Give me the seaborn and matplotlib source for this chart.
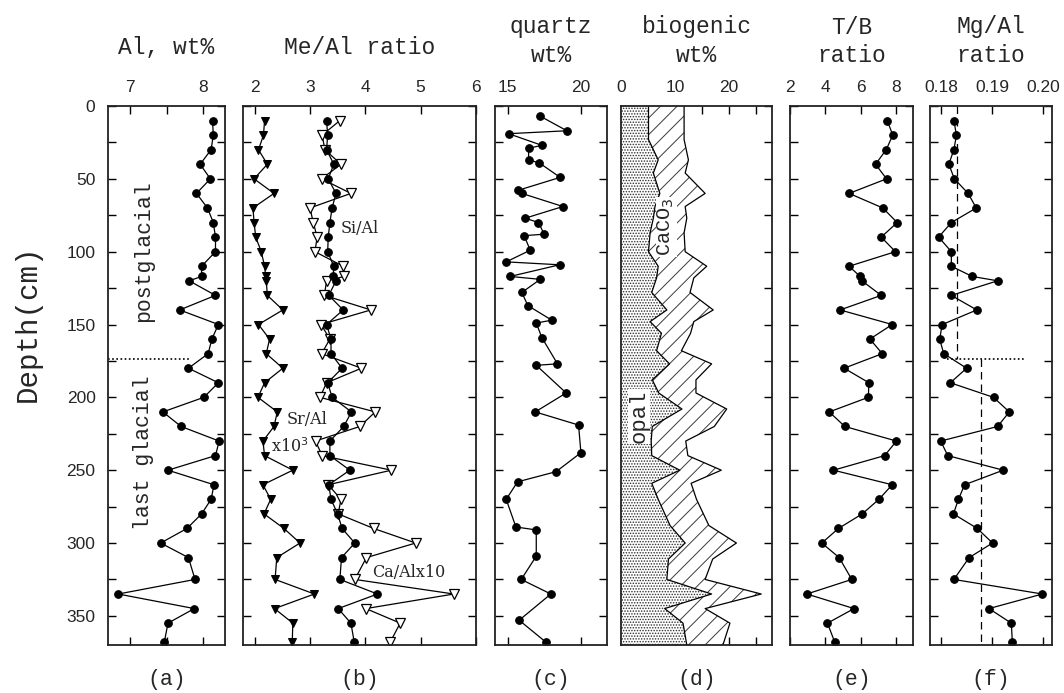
import numpy as np
import pandas as pd
import matplotlib
matplotlib.use("Agg")
import matplotlib.pyplot as plt
import seaborn as sns

# ---------------- data ----------------
depth = [10, 20, 30, 40, 50, 60, 70, 80, 90, 100, 110, 117, 120, 130, 140, 150, 160, 170,
         180, 190, 200, 210, 220, 230, 240, 250, 260, 270, 280, 290, 300, 310,
         325, 335, 345, 355, 368]

al_wt = [8.13, 8.14, 8.11, 7.96, 8.10, 7.91, 8.06, 8.14, 8.17, 8.17, 7.98, 7.98, 7.81, 8.17,
         7.68, 8.21, 8.12, 8.07, 7.80, 8.21, 8.01, 7.45, 7.70, 8.22, 8.17, 7.52, 8.15, 8.11,
         7.98, 7.78, 7.42, 7.80, 7.89, 6.84, 7.88, 7.52, 7.47]

sr_al = [2.18, 2.16, 2.07, 2.23, 1.99, 2.35, 1.97, 1.99, 2.02, 2.12, 2.18, 2.20, 2.21, 2.23,
         2.51, 2.07, 2.27, 2.21, 2.51, 2.18, 2.06, 2.41, 2.35, 2.15, 2.18, 2.69, 2.15, 2.29,
         2.17, 2.53, 2.82, 2.40, 2.37, 3.08, 2.36, 2.69, 2.68]

si_al = [3.30, 3.32, 3.30, 3.43, 3.33, 3.47, 3.40, 3.36, 3.33, 3.32, 3.43, 3.42, 3.47, 3.34,
         3.60, 3.30, 3.38, 3.38, 3.58, 3.32, 3.40, 3.75, 3.61, 3.36, 3.36, 3.72, 3.34, 3.38,
         3.50, 3.58, 3.81, 3.57, 3.54, 4.22, 3.51, 3.74, 3.80]

ca_al = [3.54, 3.22, 3.27, 3.56, 3.21, 3.74, 3.00, 3.06, 3.13, 3.09, 3.60, 3.62, 3.30, 3.26,
         4.10, 3.20, 3.36, 3.21, 3.93, 3.30, 3.18, 4.18, 3.90, 3.10, 3.22, 4.47, 3.33, 3.56,
         3.51, 4.15, 4.91, 4.02, 3.81, 5.60, 4.01, 4.63, 4.45]

quartz_depth = [7, 17, 19, 27, 29, 37, 39, 49, 58, 60, 69, 77, 80, 88, 89, 99, 107, 109, 117,
                119, 128, 137, 147, 149, 159, 177, 178, 197, 210, 219, 238, 251, 258, 270,
                289, 291, 309, 325, 335, 353, 368]
quartz = [17.22, 19.03, 15.07, 17.33, 16.43, 16.43, 17.15, 18.57, 15.68, 15.97, 18.76, 16.20,
          17.10, 17.49, 16.13, 16.54, 14.91, 18.53, 15.18, 17.22, 15.97, 16.38, 18.00, 16.95,
          17.33, 18.39, 16.95, 18.98, 16.88, 19.82, 19.98, 18.30, 15.68, 14.91, 15.57, 16.95,
          16.95, 15.93, 17.94, 15.79, 17.60]

bio_depth = [0, 8, 23, 37, 46, 60, 69, 77, 87, 100, 110, 118, 128, 140, 148, 156, 168, 177,
             188, 197, 208, 220, 230, 240, 250, 259, 270, 288, 300, 311, 325, 335, 345, 355, 370]
opal = [5.1, 5.1, 5.1, 6.9, 6.0, 7.2, 6.3, 6.0, 5.4, 5.1, 6.9, 6.6, 5.7, 8.5, 5.4, 7.5, 6.6,
        9.0, 5.8, 7.0, 11.3, 5.8, 5.6, 5.7, 10.9, 5.7, 6.9, 9.1, 11.9, 8.8, 8.5, 16.8, 8.1,
        11.5, 12.2]
caco3 = [6.6, 6.6, 6.6, 5.6, 5.9, 8.4, 5.6, 6.2, 6.3, 6.8, 9.0, 6.9, 7.1, 8.6, 8.1, 5.4, 4.6,
         7.8, 8.1, 6.9, 8.3, 11.5, 6.4, 6.7, 7.7, 7.3, 7.1, 7.2, 9.5, 8.2, 7.1, 9.2, 7.5, 8.7,
         6.7]

tb_ratio = [7.48, 7.79, 7.42, 6.82, 7.44, 5.33, 7.23, 8.04, 7.14, 7.94, 5.33, 5.95, 6.05, 7.14,
            4.82, 7.76, 6.50, 7.20, 5.05, 6.45, 6.41, 4.21, 5.09, 8.00, 7.33, 4.45, 7.76, 7.01,
            6.07, 4.73, 3.79, 4.77, 5.48, 2.95, 5.61, 4.11, 4.52]

mg_al = [0.1825, 0.1830, 0.1825, 0.1815, 0.1826, 0.1853, 0.1869, 0.1820, 0.1795, 0.1820,
         0.1820, 0.1861, 0.1911, 0.1820, 0.1870, 0.1802, 0.1797, 0.1805, 0.1850, 0.1818,
         0.1903, 0.1934, 0.1911, 0.1799, 0.1813, 0.1922, 0.1846, 0.1834, 0.1824, 0.1871,
         0.1901, 0.1855, 0.1825, 0.1999, 0.1894, 0.1938, 0.1940]

boundary_depth = 174
mg_mean_post = 0.1832
mg_mean_glacial = 0.1878
al_boundary_end = 7.84
mg_boundary_span = [0.1812, 0.1963]

titles = ["Al, wt%", "Me/Al ratio", "quartz\nwt%", "biogenic\nwt%", "T/B\nratio", "Mg/Al\nratio"]
letters = ["(a)", "(b)", "(c)", "(d)", "(e)", "(f)"]
xlims = [(6.7, 8.3), (1.79, 6.0), (14.15, 21.75), (0, 28), (2.0, 8.93), (0.1778, 0.2018)]
xticks = [[7, 7.5, 8], [2, 3, 4, 5, 6], [15, 20], [0, 5, 10, 15, 20, 25], [2, 4, 6, 8],
          [0.18, 0.19, 0.20]]
xticklabels = [["7", "", "8"], ["2", "3", "4", "5", "6"], ["15", "20"],
               ["0", "", "10", "", "20", ""], ["2", "4", "6", "8"], ["0.18", "0.19", "0.20"]]
yticks = list(range(0, 371, 25))
yticklabels = [str(v) if v % 50 == 0 else "" for v in yticks]

# ---------------- style ----------------
sns.set_style("ticks")
plt.rcParams["font.family"] = ["Liberation Sans", "DejaVu Sans"]
plt.rcParams["hatch.linewidth"] = 0.7
MONO = ["Liberation Mono", "DejaVu Sans Mono"]
SERIF = ["DejaVu Serif"]

W, H = 1064, 693
fig = plt.figure(figsize=(W / 100, H / 100), dpi=100)
fig.patch.set_facecolor("white")

panels = [(108, 225), (243, 476), (495, 607), (621, 772), (790, 913), (930, 1052)]
top_px, bot_px = 106, 645
axes = []
for (x0, x1) in panels:
    ax = fig.add_axes([x0 / W, 1 - bot_px / H, (x1 - x0) / W, (bot_px - top_px) / H])
    axes.append(ax)

for i, ax in enumerate(axes):
    ax.set_xlim(*xlims[i])
    ax.set_ylim(370, 0)
    ax.set_xticks(xticks[i])
    ax.set_xticklabels(xticklabels[i])
    ax.set_yticks(yticks)
    ax.set_yticklabels(yticklabels)
    ax.tick_params(which="both", direction="in", top=True, bottom=True, left=True,
                   right=True, labeltop=True, labelbottom=False, labelleft=(i == 0),
                   labelright=False, length=6, width=1.0, color="black",
                   labelsize=12.5, pad=9)
    ax.xaxis.set_tick_params(pad=8)
    for s in ax.spines.values():
        s.set_linewidth(1.3)
        s.set_color("#222222")
    cx = (panels[i][0] + panels[i][1]) / 2 / W
    if "\n" in titles[i]:
        l1, l2 = titles[i].split("\n")
        fig.text(cx, 1 - 27 / H, l1, ha="center", va="center", family=MONO, fontsize=16.5)
        fig.text(cx, 1 - 55 / H, l2, ha="center", va="center", family=MONO, fontsize=16.5)
    else:
        fig.text(cx, 1 - 48 / H, titles[i], ha="center", va="center", family=MONO,
                 fontsize=16.5)
    fig.text(cx, 1 - 680 / H, letters[i], ha="center", va="center", family=MONO,
             fontsize=15.5)

line_kw = dict(sort=False, estimator=None, color="black", linewidth=0.9)

# (a) Al
ax = axes[0]
sns.lineplot(x=al_wt, y=depth, ax=ax, marker="o", markersize=5.5, markeredgecolor="black",
             markerfacecolor="black", **line_kw)
ax.hlines(boundary_depth, xlims[0][0], al_boundary_end, colors="black",
          linestyles=(0, (1, 1.5)), linewidth=1.2)
ax.text(7.18, 100, "postglacial", rotation=90, ha="center", va="center", family=MONO,
        fontsize=15.5)
ax.text(7.18, 238, "last glacial", rotation=90, ha="center", va="center", family=MONO,
        fontsize=15.5)

# (b) Me/Al
ax = axes[1]
sns.lineplot(x=ca_al, y=depth, ax=ax, marker="v", markersize=6.5, markeredgecolor="black",
             markerfacecolor="white", markeredgewidth=0.9, **line_kw)
sns.lineplot(x=si_al, y=depth, ax=ax, marker="o", markersize=5.5, markeredgecolor="black",
             markerfacecolor="black", **line_kw)
sns.lineplot(x=sr_al, y=depth, ax=ax, marker="v", markersize=5.5, markeredgecolor="black",
             markerfacecolor="black", **line_kw)
ax.text(3.90, 84, "Si/Al", ha="center", va="center", family=SERIF, fontsize=11.5)
ax.text(2.94, 215, "Sr/Al", ha="center", va="center", family=SERIF, fontsize=11.5)
ax.text(2.63, 234, "x10$^{3}$", ha="center", va="center", family=SERIF, fontsize=11.5)
ax.text(4.78, 320, "Ca/Alx10", ha="center", va="center", family=SERIF, fontsize=11.5)

# (c) quartz
ax = axes[2]
sns.lineplot(x=quartz, y=quartz_depth, ax=ax, marker="o", markersize=5.5,
             markeredgecolor="black", markerfacecolor="black", **line_kw)

# (d) biogenic
ax = axes[3]
bio = pd.DataFrame({"depth": bio_depth, "opal": opal, "caco3": caco3})
bio["total"] = bio["opal"] + bio["caco3"]
ax.fill_betweenx(bio["depth"], 0, bio["opal"], facecolor="white", edgecolor="#2e2e2e",
                 hatch="......", linewidth=0)
ax.fill_betweenx(bio["depth"], bio["opal"], bio["total"], facecolor="white",
                 edgecolor="#3a3a3a", hatch="//", linewidth=0)
sns.lineplot(data=bio, x="opal", y="depth", ax=ax, **line_kw)
sns.lineplot(data=bio, x="total", y="depth", ax=ax, **line_kw)
ax.text(8.4, 83, "CaCO$_3$", rotation=90, ha="center", va="center", family=MONO,
        fontsize=14.5, bbox=dict(facecolor="white", edgecolor="none", pad=0.5))
ax.text(3.3, 213, "opal", rotation=90, ha="center", va="center", family=MONO,
        fontsize=16, bbox=dict(facecolor="white", edgecolor="none", pad=0.5))

# (e) T/B
ax = axes[4]
sns.lineplot(x=tb_ratio, y=depth, ax=ax, marker="o", markersize=5.5,
             markeredgecolor="black", markerfacecolor="black", **line_kw)

# (f) Mg/Al
ax = axes[5]
ax.vlines(mg_mean_post, 0, boundary_depth, colors="black", linestyles=(0, (6, 4)),
          linewidth=0.9)
ax.vlines(mg_mean_glacial, boundary_depth, 370, colors="black", linestyles=(0, (6, 4)),
          linewidth=0.9)
ax.hlines(boundary_depth, mg_boundary_span[0], mg_boundary_span[1], colors="black",
          linestyles=(0, (1, 1.5)), linewidth=1.2)
sns.lineplot(x=mg_al, y=depth, ax=ax, marker="o", markersize=5.5,
             markeredgecolor="black", markerfacecolor="black", **line_kw)

for ax in axes:
    ax.set_xlabel("")
    ax.set_ylabel("")
    if ax.get_legend() is not None:
        ax.get_legend().remove()

fig.text(28 / W, 1 - 323 / H, "Depth(cm)", rotation=90, ha="center", va="center",
         family=MONO, fontsize=21)

fig.savefig("out.png", dpi=100, facecolor="white")
